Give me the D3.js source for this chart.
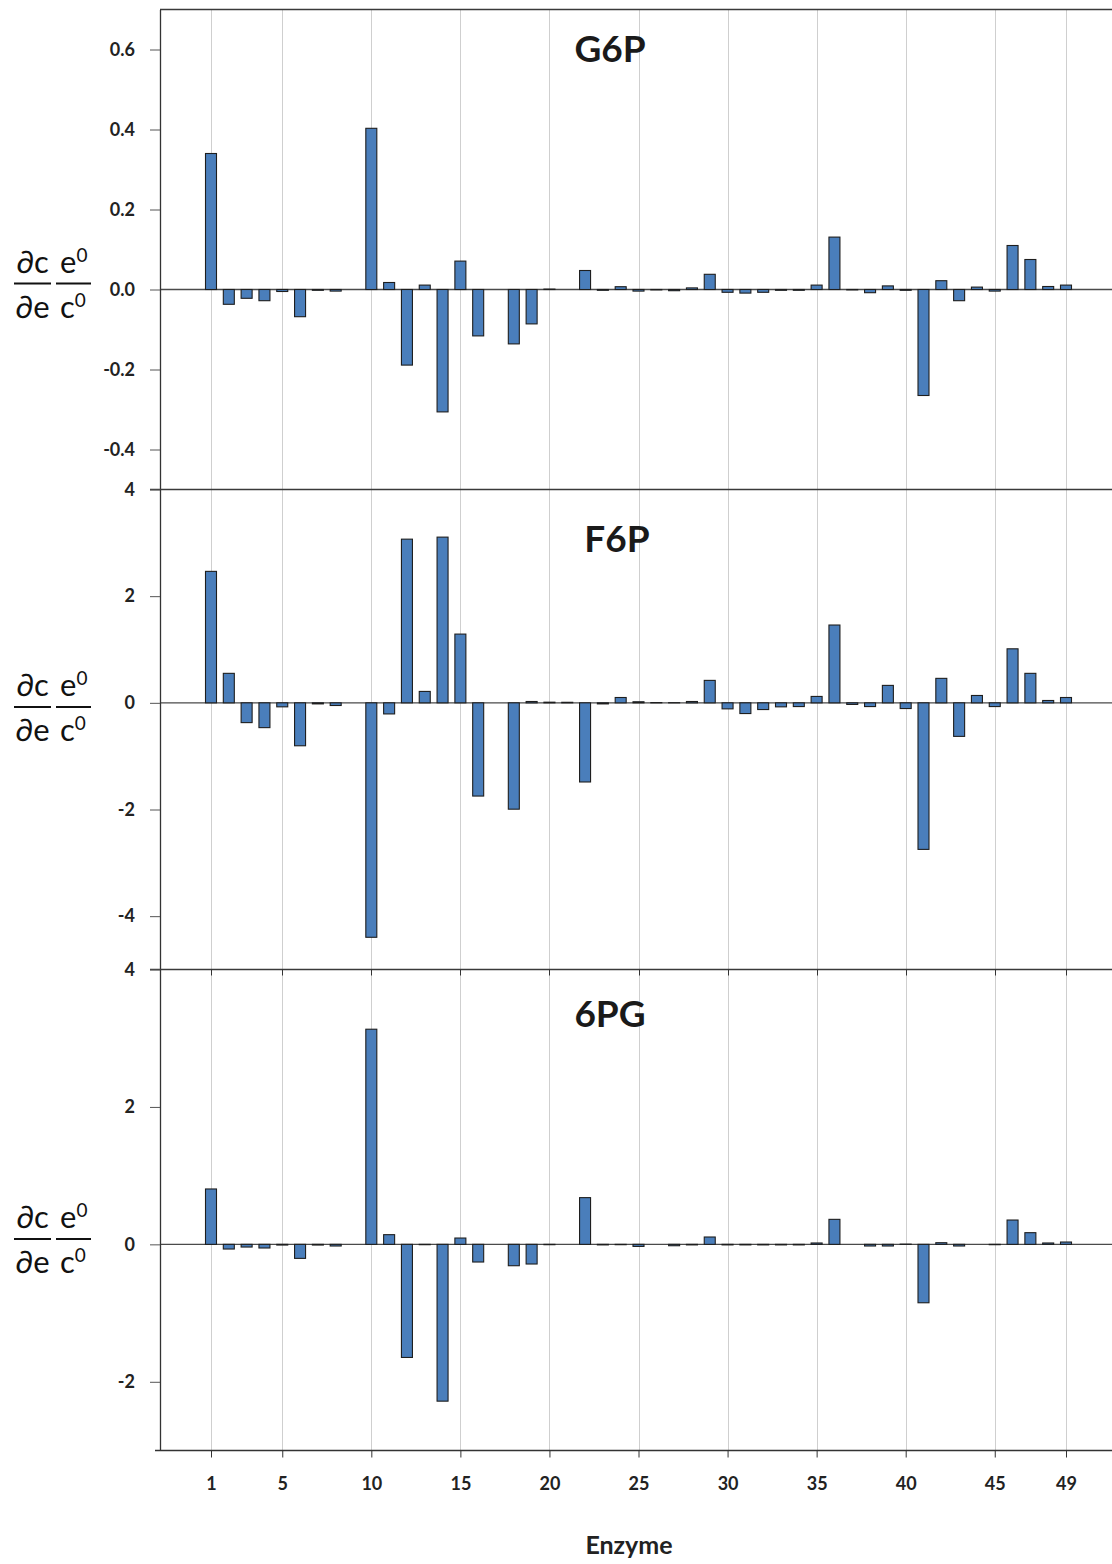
<!DOCTYPE html>
<html><head><meta charset="utf-8">
<script src="https://cdn.jsdelivr.net/npm/d3@7"></script>
<style>body{margin:0;background:#fff} svg{display:block}</style>
</head><body><svg id="chart" width="1112" height="1564"></svg>
<script>
const enzymes = [1,2,3,4,5,6,7,8,9,10,11,12,13,14,15,16,17,18,19,20,21,22,23,24,25,26,27,28,29,30,31,32,33,34,35,36,37,38,39,40,41,42,43,44,45,46,47,48,49];
const xTickValues = [1,5,10,15,20,25,30,35,40,45,49];

const g6pValues = [0.34,-0.037,-0.022,-0.028,-0.005,-0.068,-0.002,-0.004,0,0.403,0.0175,-0.189,0.011,-0.306,0.071,-0.116,0,-0.136,-0.086,0.001,0,0.0475,-0.002,0.007,-0.004,-0.001,-0.003,0.004,0.038,-0.007,-0.009,-0.007,-0.002,-0.002,0.011,0.131,-0.001,-0.008,0.009,-0.002,-0.265,0.022,-0.028,0.006,-0.004,0.11,0.075,0.0075,0.011];
const f6pValues = [2.465,0.553,-0.371,-0.465,-0.075,-0.805,-0.02,-0.05,0,-4.396,-0.208,3.069,0.214,3.107,1.289,-1.748,0,-1.994,0.025,0.012,0.01,-1.484,-0.02,0.1,0.02,0.005,0.003,0.025,0.421,-0.113,-0.201,-0.126,-0.075,-0.07,0.12,1.459,-0.03,-0.07,0.327,-0.107,-2.748,0.459,-0.629,0.138,-0.07,1.013,0.553,0.044,0.1];
const pg6Values = [0.806,-0.068,-0.039,-0.053,-0.01,-0.204,-0.01,-0.024,0,3.131,0.141,-1.646,-0.005,-2.282,0.092,-0.257,0,-0.311,-0.286,-0.005,0,0.68,-0.008,-0.005,-0.03,0,-0.02,-0.008,0.107,-0.008,-0.008,-0.008,-0.008,-0.008,0.02,0.364,0,-0.024,-0.024,0.003,-0.85,0.024,-0.024,0,-0.005,0.354,0.17,0.02,0.034];

const panelTitles = ["G6P","F6P","6PG"];
const yTicksG6P = [0.6,0.4,0.2,0,-0.2,-0.4];
const yTicksF6P = [4,2,0,-2,-4];
const yTicks6PG = [4,2,0,-2];
const yDomainG6P = [-0.5,0.7];
const yDomainF6P = [-5,4];
const yDomain6PG = [-3,4];
const xLabel = "Enzyme";

const svg = d3.select("#chart");
const FONT = "Lato, 'Open Sans', sans-serif";
const left = 160, right = 1112;
const x = d3.scaleLinear().domain([1,49]).range([211,1066]);
const barW = 11;

const panels = [
  {title: panelTitles[0], values: g6pValues, ticks: yTicksG6P, domain: yDomainG6P, top: 9.5, bottom: 489.5, fmt: v => d3.format(".1f")(v).replace("\u2212","-"), tx: 610, ty: 62, fy: 283.5},
  {title: panelTitles[1], values: f6pValues, ticks: yTicksF6P, domain: yDomainF6P, top: 489.5, bottom: 969.5, fmt: v => String(v), tx: 617, ty: 552, fy: 707},
  {title: panelTitles[2], values: pg6Values, ticks: yTicks6PG, domain: yDomain6PG, top: 969.5, bottom: 1450.5, fmt: v => String(v), tx: 610, ty: 1027, fy: 1239}
];

panels.forEach((p, i) => {
  const y = d3.scaleLinear().domain(p.domain).range([p.bottom, p.top]);
  const g = svg.append("g");

  g.selectAll("line.grid").data(xTickValues).join("line")
    .attr("x1", d => Math.round(x(d)) + 0.5).attr("x2", d => Math.round(x(d)) + 0.5)
    .attr("y1", p.top).attr("y2", p.bottom)
    .attr("stroke", "#cfcfcf").attr("stroke-width", 1);

  g.append("line").attr("x1", left).attr("x2", right)
    .attr("y1", y(0)).attr("y2", y(0))
    .attr("stroke", "#4a4a4a").attr("stroke-width", 1.3);

  g.selectAll("rect.bar").data(p.values.map((v, k) => ({n: enzymes[k], v}))).join("rect")
    .attr("x", d => x(d.n) - barW / 2)
    .attr("width", barW)
    .attr("y", d => y(Math.max(0, d.v)))
    .attr("height", d => Math.abs(y(d.v) - y(0)))
    .attr("fill", "#4a7ebb").attr("stroke", "#1e1e1e").attr("stroke-width", 1.1);

  g.append("line").attr("x1", i === 0 ? left : 150).attr("x2", right)
    .attr("y1", p.top).attr("y2", p.top).attr("stroke", "#3a3a3a").attr("stroke-width", 1.4);

  const ax = g.append("g").attr("transform", `translate(${left},0)`)
    .call(d3.axisLeft(y).tickValues(p.ticks).tickSize(10).tickSizeOuter(0).tickPadding(15).tickFormat(p.fmt));
  ax.select(".domain").attr("stroke", "#333").attr("stroke-width", 1.3);
  ax.selectAll(".tick line").attr("stroke", "#555");
  ax.selectAll(".tick text").attr("font-family", FONT).attr("font-weight", "bold")
    .attr("font-size", 18).attr("fill", "#222");

  g.append("text").attr("x", p.tx).attr("y", p.ty).attr("text-anchor", "middle")
    .attr("font-family", FONT).attr("font-weight", "bold").attr("font-size", 37)
    .attr("fill", "#1a1a1a").text(p.title);

  const fl = g.append("g").attr("font-family", FONT).attr("font-size", 31).attr("fill", "#111");
  fl.append("line").attr("x1", 14).attr("x2", 51).attr("y1", p.fy).attr("y2", p.fy).attr("stroke", "#111").attr("stroke-width", 2);
  fl.append("line").attr("x1", 56).attr("x2", 91).attr("y1", p.fy).attr("y2", p.fy).attr("stroke", "#111").attr("stroke-width", 2);
  fl.append("text").attr("x", 32.5).attr("y", p.fy - 11).attr("text-anchor", "middle").text("\u2202c");
  fl.append("text").attr("x", 32.5).attr("y", p.fy + 34).attr("text-anchor", "middle").text("\u2202e");
  const num = fl.append("text").attr("x", 60).attr("y", p.fy - 11);
  num.append("tspan").text("e");
  num.append("tspan").attr("font-size", 19).attr("dy", -11).text("0");
  const den = fl.append("text").attr("x", 60).attr("y", p.fy + 34);
  den.append("tspan").text("c");
  den.append("tspan").attr("font-size", 19).attr("dy", -11).text("0");

  if (i === 2) {
    g.selectAll("line.ttick").data(xTickValues).join("line")
      .attr("x1", d => Math.round(x(d)) + 0.5).attr("x2", d => Math.round(x(d)) + 0.5)
      .attr("y1", p.top).attr("y2", p.top + 6).attr("stroke", "#333");
    const xa = g.append("g").attr("transform", `translate(0,${p.bottom})`)
      .call(d3.axisBottom(x).tickValues(xTickValues).tickSize(7).tickSizeOuter(0).tickPadding(20).tickFormat(d => String(d)));
    xa.select(".domain").remove();
    xa.selectAll(".tick line").attr("stroke", "#333");
    xa.selectAll(".tick text").attr("font-family", FONT).attr("font-weight", "bold")
      .attr("font-size", 18).attr("fill", "#222");
    g.append("line").attr("x1", 155).attr("x2", right).attr("y1", p.bottom).attr("y2", p.bottom)
      .attr("stroke", "#333").attr("stroke-width", 1.3);
  }
});

svg.append("text").attr("x", 629).attr("y", 1554).attr("text-anchor", "middle")
  .attr("font-family", FONT).attr("font-weight", "bold").attr("font-size", 25)
  .attr("fill", "#222").text(xLabel);
</script></body></html>
